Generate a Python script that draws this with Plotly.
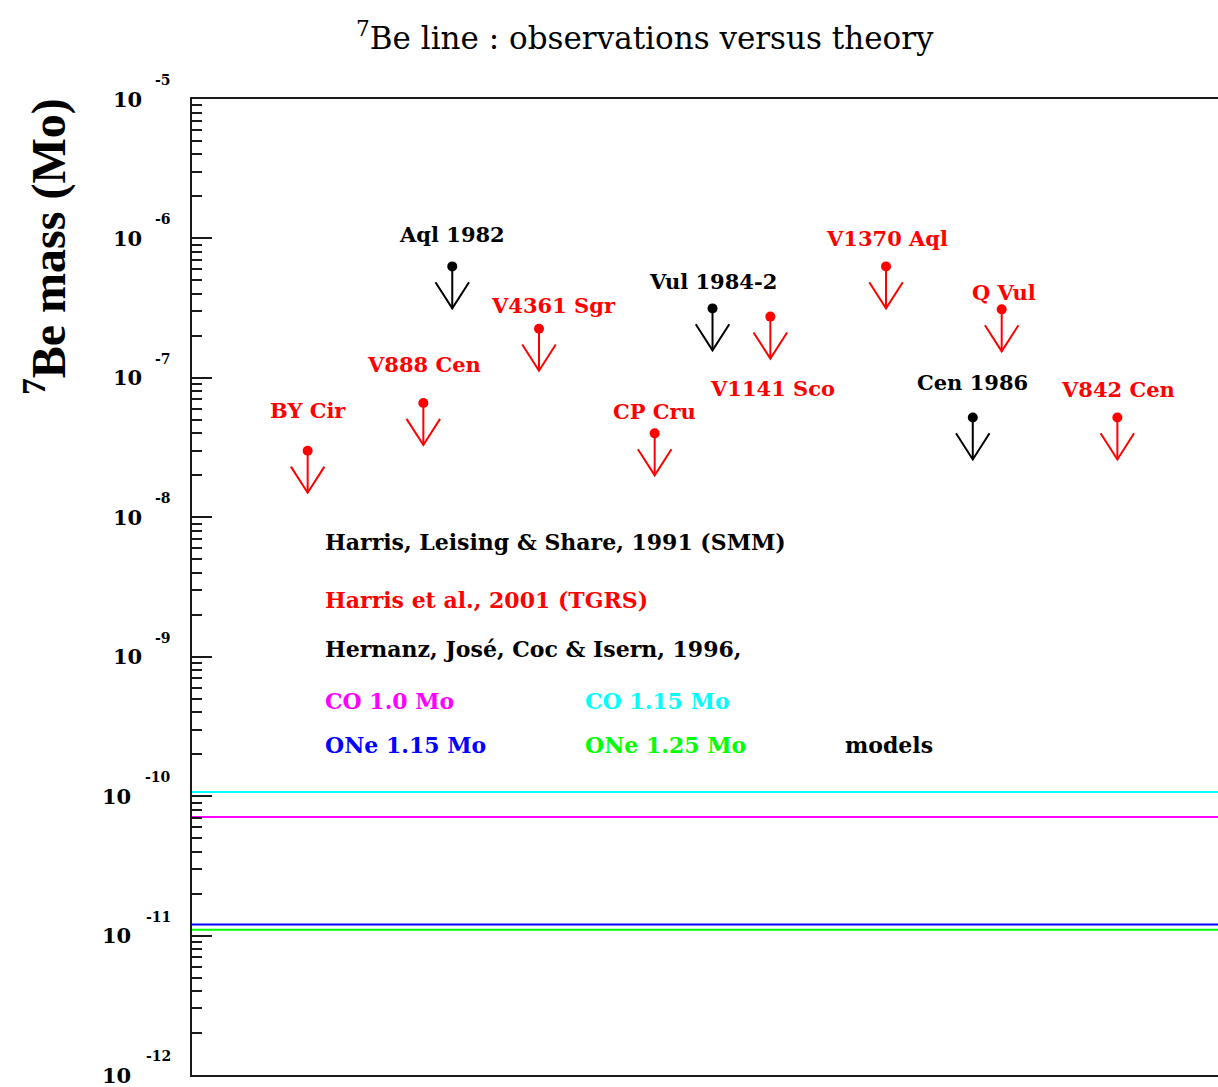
import math
import plotly.graph_objects as go

# --- data -----------------------------------------------------------------
# Novae observed in the 478 keV 7Be line: upper limits on the ejected 7Be mass
novae = ["BY Cir", "V888 Cen", "Aql 1982", "V4361 Sgr", "CP Cru", "Vul 1984-2",
         "V1141 Sco", "V1370 Aql", "Cen 1986", "Q Vul", "V842 Cen"]
nova_x = [4, 8, 9, 12, 16, 18, 20, 24, 27, 28, 32]
be7_upper_limit = [3.0e-8, 6.6e-8, 6.3e-7, 2.25e-7, 4.0e-8, 3.15e-7,
                   2.75e-7, 6.3e-7, 5.2e-8, 3.1e-7, 5.2e-8]
instrument = ["TGRS", "TGRS", "SMM", "TGRS", "TGRS", "SMM",
              "TGRS", "TGRS", "SMM", "TGRS", "TGRS"]

# Theoretical 7Be yields (Hernanz, José, Coc & Isern 1996)
models = ["CO 1.0 Mo", "CO 1.15 Mo", "ONe 1.15 Mo", "ONe 1.25 Mo"]
model_be7 = [7.1e-11, 1.07e-10, 1.2e-11, 1.1e-11]

decade_exponents = [-5, -6, -7, -8, -9, -10, -11, -12]

# --- styling --------------------------------------------------------------
W, H = 1218, 1087
ML, MR, MT, MB = 192, 0, 99, 12
X_MIN, X_MAX = 0.0, 35.48
Y_MIN, Y_MAX = -12, -5

SERIF = "DejaVu Serif"
TIMES = "Liberation Serif"
AXIS_COLOR = "#1a1a1a"

instrument_color = {"SMM": "black", "TGRS": "#ff0000"}
model_color = {"CO 1.0 Mo": "#ff00ff", "CO 1.15 Mo": "#00ffff",
               "ONe 1.15 Mo": "#0000ff", "ONe 1.25 Mo": "#00ff00"}

LIMIT_FACTOR = 2.0      # arrow length: one factor of two below the limit
HEAD_HALF_WIDTH = 0.58  # x units
HEAD_RISE = 1.54        # multiplicative height of the arrow head

# label offsets (px) relative to each upper-limit point
label_offset = {
    "BY Cir": (0, -40), "V888 Cen": (1, -39), "Aql 1982": (0, -32),
    "V4361 Sgr": (14, -23), "CP Cru": (0, -22), "Vul 1984-2": (0, -27),
    "V1141 Sco": (2, 72), "V1370 Aql": (1, -28), "Cen 1986": (0, -35),
    "Q Vul": (2, -17), "V842 Cen": (1, -28),
}

fig = go.Figure()

# model predictions as horizontal lines across the whole panel
for name, val in zip(models, model_be7):
    fig.add_trace(go.Scatter(
        x=[X_MIN, X_MAX], y=[val, val], mode="lines",
        line=dict(color=model_color[name], width=2),
        hoverinfo="skip", name=name))

# upper-limit arrows, one trace per instrument
for inst in ["SMM", "TGRS"]:
    xs, ys, px, py = [], [], [], []
    for name, x, v, i in zip(novae, nova_x, be7_upper_limit, instrument):
        if i != inst:
            continue
        tip = v / LIMIT_FACTOR
        xs += [x, x, None, x - HEAD_HALF_WIDTH, x, x + HEAD_HALF_WIDTH, None]
        ys += [v, tip, None, tip * HEAD_RISE, tip, tip * HEAD_RISE, None]
        px.append(x)
        py.append(v)
    fig.add_trace(go.Scatter(
        x=xs, y=ys, mode="lines",
        line=dict(color=instrument_color[inst], width=2),
        hoverinfo="skip", name=inst))
    fig.add_trace(go.Scatter(
        x=px, y=py, mode="markers",
        marker=dict(color=instrument_color[inst], size=10, symbol="circle",
                    line=dict(width=0)),
        name=inst))

annotations = []

# nova names
for name, x, v, i in zip(novae, nova_x, be7_upper_limit, instrument):
    dx, dy = label_offset[name]
    annotations.append(dict(
        x=x, y=math.log10(v), xref="x", yref="y", text=name, showarrow=False,
        xanchor="center", yanchor="middle", xshift=dx, yshift=-dy,
        font=dict(family=SERIF, size=21, color=instrument_color[i], weight="bold")))


def paper_x(px):
    return (px - ML) / (W - ML - MR)


def paper_y(py):
    return (H - MB - py) / (H - MT - MB)


# key text block
key_rows = [
    ("Harris, Leising & Share, 1991 (SMM)", "black", 323, 542),
    ("Harris et al., 2001 (TGRS)", "#ff0000", 323, 600),
    ("Hernanz, José, Coc & Isern, 1996,", "black", 323, 649),
    (models[0], model_color[models[0]], 323, 701),
    (models[1], model_color[models[1]], 583, 701),
    (models[2], model_color[models[2]], 323, 745),
    (models[3], model_color[models[3]], 583, 745),
    ("models", "black", 843, 745),
]
for text, color, kx, ky in key_rows:
    annotations.append(dict(
        x=paper_x(kx), y=paper_y(ky), xref="paper", yref="paper", text=text,
        showarrow=False, xanchor="left", yanchor="middle",
        font=dict(family=SERIF, size=22, color=color, weight="bold")))

# decade tick labels: "10" with a raised exponent
for e in decade_exponents:
    exp_txt = str(e)
    annotations.append(dict(
        x=0, y=e, xref="paper", yref="y", text=exp_txt, showarrow=False,
        xanchor="right", yanchor="middle", xshift=-19, yshift=19,
        font=dict(family=SERIF, size=14, color="black", weight="bold")))
    annotations.append(dict(
        x=0, y=e, xref="paper", yref="y", text="10", showarrow=False,
        xanchor="right", yanchor="middle",
        xshift=-48 - (11 if len(exp_txt) > 2 else 0), yshift=0,
        font=dict(family=SERIF, size=21, color="black", weight="bold")))

# title and y-axis title
annotations.append(dict(
    x=paper_x(645), y=paper_y(36), xref="paper", yref="paper",
    text="<sup>7</sup>Be line : observations versus theory", showarrow=False,
    xanchor="center", yanchor="middle",
    font=dict(family=SERIF, size=31, color="black")))
annotations.append(dict(
    x=paper_x(45), y=paper_y(247), xref="paper", yref="paper",
    text="<sup>7</sup>Be mass (Mo)", showarrow=False, textangle=-90,
    xanchor="center", yanchor="middle",
    font=dict(family=TIMES, size=48, color="black", weight="bold")))

fig.update_layout(
    width=W, height=H,
    margin=dict(l=ML, r=MR, t=MT, b=MB, pad=0),
    paper_bgcolor="white", plot_bgcolor="white",
    showlegend=False,
    annotations=annotations,
    xaxis=dict(range=[X_MIN, X_MAX], showline=True, mirror=True,
               linecolor=AXIS_COLOR, linewidth=2, ticks="",
               showticklabels=False, showgrid=False, zeroline=False),
    yaxis=dict(type="log", range=[Y_MIN, Y_MAX], showline=True, mirror=False,
               linecolor=AXIS_COLOR, linewidth=2,
               tickmode="linear", tick0=0, dtick=1,
               ticks="inside", ticklen=20, tickwidth=2, tickcolor=AXIS_COLOR,
               showticklabels=False, showgrid=False, zeroline=False,
               minor=dict(ticks="inside", ticklen=10, tickwidth=2,
                          tickcolor=AXIS_COLOR, dtick="D1", showgrid=False)),
)

fig.write_html("out.html")
